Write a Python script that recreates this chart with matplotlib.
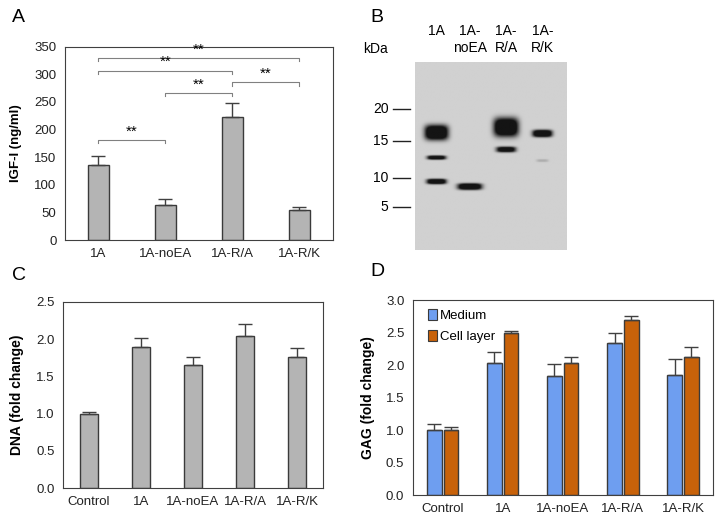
import numpy as np
import matplotlib
matplotlib.use("Agg")
import matplotlib.pyplot as plt
from matplotlib.patches import Patch

plt.rcParams["font.family"] = ["Liberation Sans", "DejaVu Sans"]
plt.rcParams["font.size"] = 9

# ---- panel A: IGF-I secretion
a_labels = ["1A", "1A-noEA", "1A-R/A", "1A-R/K"]
a_values = [135, 63, 222, 54]
a_errors = [17, 12, 25, 5]
# significance brackets: (left bar, right bar, height)
a_pairs = [(0, 1), (1, 2), (2, 3), (0, 2), (0, 3)]
a_bracket_y = [181, 266, 285, 306, 329]

# ---- panel B: western blot (positions as fraction of gel height from top)
b_lanes = ["1A", "1A-\nnoEA", "1A-\nR/A", "1A-\nR/K"]
b_lane_x = [0.14, 0.36, 0.60, 0.84]
b_marker_kda = ["20", "15", "10", "5"]
b_marker_pos = [0.25, 0.42, 0.617, 0.771]
b_band_lane = [0, 0, 0, 1, 2, 2, 3, 3]
b_band_pos = [0.378, 0.511, 0.638, 0.665, 0.350, 0.468, 0.383, 0.527]
b_band_strength = [1.0, 0.9, 0.95, 1.0, 1.0, 0.85, 1.0, 0.12]
b_band_height = [0.040, 0.011, 0.014, 0.017, 0.050, 0.015, 0.019, 0.008]
b_band_width = [0.078, 0.062, 0.065, 0.08, 0.082, 0.065, 0.065, 0.04]

# ---- panel C: DNA
c_labels = ["Control", "1A", "1A-noEA", "1A-R/A", "1A-R/K"]
c_values = [1.0, 1.89, 1.65, 2.04, 1.76]
c_errors = [0.02, 0.13, 0.11, 0.17, 0.12]

# ---- panel D: GAG
d_labels = ["Control", "1A", "1A-noEA", "1A-R/A", "1A-R/K"]
d_medium = [1.0, 2.03, 1.83, 2.34, 1.85]
d_medium_err = [0.09, 0.17, 0.18, 0.16, 0.24]
d_cell = [1.0, 2.50, 2.03, 2.69, 2.13]
d_cell_err = [0.04, 0.03, 0.10, 0.07, 0.14]

GRAY = "#b4b4b4"
EDGE = "#3a3a3a"
BLUE = "#6e9ef0"
ORANGE = "#c8620a"
TICK_FS = 9.5


def style_axes(ax):
    for s in ax.spines.values():
        s.set_color("#404040")
        s.set_linewidth(0.8)
    ax.tick_params(length=0, pad=6, labelsize=TICK_FS, colors="#222222")


fig = plt.figure(figsize=(7.22, 5.23), dpi=100)

# A
ax = fig.add_axes([0.090, 0.541, 0.371, 0.370])
x = np.arange(len(a_labels))
ax.bar(x, a_values, 0.31, color=GRAY, edgecolor=EDGE, linewidth=1,
       yerr=[[0] * len(a_errors), a_errors], capsize=5,
       error_kw=dict(ecolor="#404040", elinewidth=1, capthick=1))
ax.set_xlim(-0.5, 3.5)
ax.set_ylim(0, 350)
ax.set_yticks(range(0, 351, 50))
ax.set_xticks(x, a_labels)
ax.set_ylabel("IGF-I (ng/ml)", fontweight="bold", fontsize=9.5, labelpad=9)
style_axes(ax)
for (i, j), h in zip(a_pairs, a_bracket_y):
    ax.plot([i, i, j, j], [h - 6, h, h, h - 6], color="#808080", lw=0.8)
    ax.text((i + j) / 2, h + 3, "**", ha="center", va="bottom", fontsize=11)

# B
ax = fig.add_axes([0.5748, 0.522, 0.2105, 0.3595])
ny, nx = 300, 200
yy, xx = np.mgrid[0:1:ny * 1j, 0:1:nx * 1j]
dens = np.zeros_like(xx)
for ln, p, s, h, w in zip(b_band_lane, b_band_pos, b_band_strength,
                          b_band_height, b_band_width):
    cx = b_lane_x[ln]
    dens += s * np.exp(-np.abs((xx - cx) / w) ** 4) * np.exp(-np.abs((yy - p) / h) ** 3)
dens = np.clip(dens * 1.6, 0, 1)
img = 0.82 - 0.74 * dens
ax.imshow(img, cmap="gray", vmin=0, vmax=1, extent=[0, 1, 1, 0], aspect="auto",
          interpolation="bilinear")
ax.set_xlim(0, 1)
ax.set_ylim(1, 0)
ax.set_xticks([])
ax.set_yticks([])
for s in ax.spines.values():
    s.set_visible(False)
for lab, p in zip(b_marker_kda, b_marker_pos):
    ax.plot([-0.145, -0.035], [p, p], color="#222222", lw=1, clip_on=False)
    ax.text(-0.175, p, lab, ha="right", va="center", fontsize=10)
for lab, cx in zip(b_lanes, b_lane_x):
    ax.text(cx, -0.20, lab, ha="center", va="top", fontsize=10, linespacing=1.2)
ax.text(-0.34, -0.07, "kDa", ha="left", va="center", fontsize=10)

# C
ax = fig.add_axes([0.0873, 0.0669, 0.360, 0.3557])
x = np.arange(len(c_labels))
ax.bar(x, c_values, 0.35, color=GRAY, edgecolor=EDGE, linewidth=1,
       yerr=[[0] * len(c_errors), c_errors], capsize=5,
       error_kw=dict(ecolor="#404040", elinewidth=1, capthick=1))
ax.set_xlim(-0.5, 4.5)
ax.set_ylim(0, 2.5)
ax.set_yticks(np.arange(0, 2.51, 0.5))
ax.yaxis.set_major_formatter(matplotlib.ticker.FormatStrFormatter("%.1f"))
ax.set_xticks(x, c_labels)
ax.set_ylabel("DNA (fold change)", fontweight="bold", fontsize=10, labelpad=9)
style_axes(ax)

# D
ax = fig.add_axes([0.5716, 0.0535, 0.416, 0.3728])
x = np.arange(len(d_labels))
w = 0.24
ekw = dict(ecolor="#404040", elinewidth=1, capthick=1)
ax.bar(x - 0.14, d_medium, w, color=BLUE, edgecolor=EDGE, linewidth=1,
       yerr=[[0] * len(d_medium), d_medium_err], capsize=5, error_kw=ekw, label="Medium")
ax.bar(x + 0.14, d_cell, w, color=ORANGE, edgecolor=EDGE, linewidth=1,
       yerr=[[0] * len(d_cell), d_cell_err], capsize=5, error_kw=ekw, label="Cell layer")
ax.set_xlim(-0.5, 4.5)
ax.set_ylim(0, 3.0)
ax.set_yticks(np.arange(0, 3.01, 0.5))
ax.yaxis.set_major_formatter(matplotlib.ticker.FormatStrFormatter("%.1f"))
ax.set_xticks(x, d_labels)
ax.set_ylabel("GAG (fold change)", fontweight="bold", fontsize=10, labelpad=8)
style_axes(ax)
handles = [Patch(facecolor=BLUE, edgecolor=EDGE, linewidth=0.8),
           Patch(facecolor=ORANGE, edgecolor=EDGE, linewidth=0.8)]
ax.legend(handles, ["Medium", "Cell layer"], loc="upper left", frameon=False,
          fontsize=9.5, handlelength=0.7, handleheight=0.9, handletextpad=0.2,
          labelspacing=0.6, borderaxespad=0.3, bbox_to_anchor=(0.02, 1.0))

# panel letters
for lab, px, py in [("A", 12, 18), ("B", 370, 18), ("C", 12, 275), ("D", 370, 272)]:
    fig.text(px / 722, 1 - py / 523, lab, fontsize=14, ha="left", va="center")

fig.savefig("out.png", dpi=100)
